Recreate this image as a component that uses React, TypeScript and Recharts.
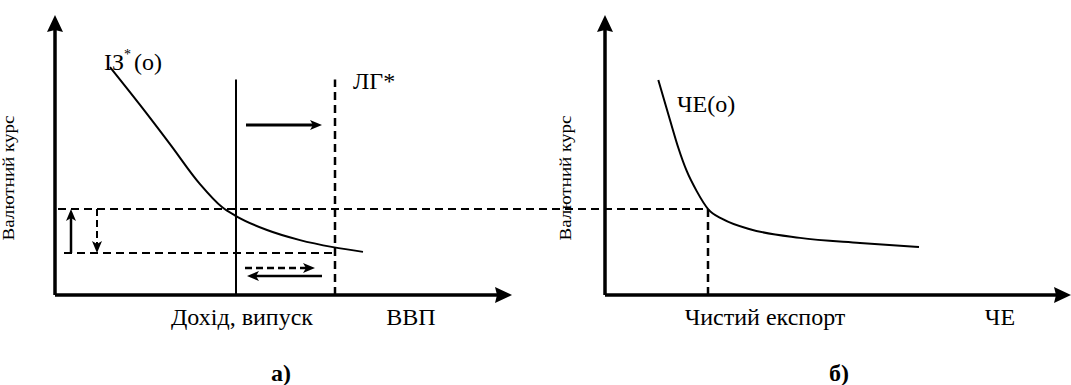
import React from "react";
import { ComposedChart, Line, XAxis, YAxis, ReferenceLine, ReferenceDot } from "recharts";

// shared vertical scale: exchange rate; panel a: output (ВВП), panel b: net export (ЧЕ)
const RATE_MAX = 10;
const OUT_MAX = 101.6;
const NX_SHIFT = 55; // origin of panel b in panel a units
const NX_MIN = -NX_SHIFT;
const NX_MAX = OUT_MAX - NX_SHIFT;

// IЗ*(о) curve
const izOutput = [5.5, 8.5, 11.5, 14.5, 16.7, 18.1, 21.2, 24.5, 27.8, 30.8];
const izRate = [8.14, 6.79, 5.39, 3.96, 3.14, 2.82, 2.32, 1.96, 1.71, 1.54];

// ЧЕ(о) curve
const nxValue = [5.33, 6.5, 7.33, 8.17, 9.17, 10.33, 11.83, 14.5, 19.5, 25.5, 31.4];
const nxRate = [7.68, 6.25, 5.26, 4.43, 3.71, 3.06, 2.7, 2.35, 2.04, 1.86, 1.71];

// key levels
const rateHigh = 3.07;
const rateLow = 1.5;
const outputNow = 18.1; // solid vertical
const outputLG = 28.0; // ЛГ*
const verticalTop = 7.7;
const nxNow = 10.3;
const outAxisEnd = 45.7;

const izData = izOutput.map((x, i) => ({ x, y: izRate[i] }));
const nxData = nxValue.map((x, i) => ({ x, y: nxRate[i] }));

const FONT = '"Liberation Serif", "Times New Roman", serif';

type P = { x1: number; y1: number; x2: number; y2: number };

// line with a notched arrow head at the end point
function arrow(width: number, dash?: string, len = 12, half = 5, notch = 3) {
    return (p: P) => {
        const { x1, y1, x2, y2 } = p;
        const dx = x2 - x1;
        const dy = y2 - y1;
        const d = Math.sqrt(dx * dx + dy * dy) || 1;
        const ux = dx / d;
        const uy = dy / d;
        const bx = x2 - ux * len;
        const by = y2 - uy * len;
        const nx = bx + ux * notch;
        const ny = by + uy * notch;
        const pts = [
            [x2, y2],
            [bx - uy * half, by + ux * half],
            [nx, ny],
            [bx + uy * half, by - ux * half],
        ]
            .map((q) => q.join(","))
            .join(" ");
        return (
            <g>
                <line x1={x1} y1={y1} x2={nx} y2={ny} stroke="#000" strokeWidth={width} strokeDasharray={dash} />
                <polygon points={pts} fill="#000" />
            </g>
        );
    };
}

function plain(width: number, dash?: string) {
    return (p: P) => (
        <line x1={p.x1} y1={p.y1} x2={p.x2} y2={p.y2} stroke="#000" strokeWidth={width} strokeDasharray={dash} />
    );
}

function label(text: React.ReactNode, anchor: "start" | "middle" = "start", size = 24, bold = false) {
    return (p: any) => (
        <text
            x={p.cx}
            y={p.cy}
            fontFamily={FONT}
            fontSize={size}
            fontWeight={bold ? 700 : 400}
            textAnchor={anchor}
            fill="#000"
        >
            {text}
        </text>
    );
}

function axisTitle(text: string) {
    return (p: any) => (
        <text
            x={p.cx}
            y={p.cy}
            transform={`rotate(-90 ${p.cx} ${p.cy})`}
            fontFamily={FONT}
            fontSize={16}
            textAnchor="middle"
            textLength={125}
            lengthAdjust="spacingAndGlyphs"
            fill="#000"
        >
            {text}
        </text>
    );
}

export default function App() {
    const seg = (axis: string, x1: number, y1: number, x2: number, y2: number, shape: any, key: string) => (
        <ReferenceLine
            key={key}
            xAxisId={axis}
            segment={[
                { x: x1, y: y1 },
                { x: x2, y: y2 },
            ]}
            ifOverflow="visible"
            shape={shape}
        />
    );
    const txt = (axis: string, x: number, y: number, shape: any, key: string) => (
        <ReferenceDot key={key} xAxisId={axis} x={x} y={y} ifOverflow="visible" shape={shape} />
    );
    const axisArrow = arrow(3.5, undefined, 17, 8, 2);

    return (
        <div style={{ position: "absolute", left: 0, top: 0, background: "#fff" }}>
            <ComposedChart width={1071} height={385} margin={{ top: 15, right: 0, bottom: 90, left: 55 }}>
                <XAxis xAxisId="a" type="number" dataKey="x" domain={[0, OUT_MAX]} allowDataOverflow hide />
                <XAxis xAxisId="b" type="number" dataKey="x" domain={[NX_MIN, NX_MAX]} allowDataOverflow hide />
                <YAxis type="number" domain={[0, RATE_MAX]} allowDataOverflow hide />

                {/* axes of panel a */}
                {seg("a", 0, 0, 0, RATE_MAX, axisArrow, "ya")}
                {seg("a", 0, 0, outAxisEnd, 0, axisArrow, "xa")}
                {/* axes of panel b */}
                {seg("b", 0, 0, 0, RATE_MAX, axisArrow, "yb")}
                {seg("b", 0, 0, NX_MAX, 0, axisArrow, "xb")}

                {/* guide lines */}
                {seg("a", 0.3, rateHigh, nxNow + NX_SHIFT, rateHigh, plain(2, "8 5"), "hi")}
                {seg("a", 0.9, rateLow, outputLG, rateLow, plain(2, "8 5"), "lo")}
                {seg("b", nxNow, rateHigh, nxNow, 0, plain(2.5, "8 5"), "nxv")}
                {seg("a", outputNow, 0, outputNow, verticalTop, plain(2), "y0")}
                {seg("a", outputLG, 0, outputLG, verticalTop, plain(2.5, "8 5"), "lg")}

                {/* shift arrows */}
                {seg("a", 1.6, rateLow, 1.6, rateHigh, arrow(2.5), "up")}
                {seg("a", 4.2, rateHigh, 4.2, rateLow, arrow(2, "7 4"), "down")}
                {seg("a", 19.1, 6.07, 26.7, 6.07, arrow(3), "r1")}
                {seg("a", 19.0, 0.96, 26.0, 0.96, arrow(2.5, "7 4"), "r2")}
                {seg("a", 26.7, 0.68, 19.2, 0.68, arrow(2.5), "l1")}

                <Line xAxisId="a" data={izData} dataKey="y" type="monotone" dot={false} stroke="#000" strokeWidth={2} isAnimationActive={false} />
                <Line xAxisId="b" data={nxData} dataKey="y" type="monotone" dot={false} stroke="#000" strokeWidth={2} isAnimationActive={false} />

                {/* labels */}
                {txt(
                    "a",
                    4.9,
                    8.04,
                    label(
                        <>
                            <tspan>ІЗ</tspan>
                            <tspan dy={-11} fontSize={14}>
                                *
                            </tspan>
                            <tspan dy={11} dx={3}>
                                (о)
                            </tspan>
                        </>
                    ),
                    "iz"
                )}
                {txt("a", 29.8, 7.36, label("ЛГ*"), "lgt")}
                {txt("a", 18.7, -1.07, label("Дохід, випуск", "middle"), "xla")}
                {txt("a", 35.6, -1.07, label("ВВП", "middle"), "vvp")}
                {txt("a", 22.6, -3.07, label("а)", "middle", 24, true), "fa")}
                {txt("a", -4.1, 4.18, axisTitle("Валютний курс"), "yla")}

                {txt("b", 7.2, 6.54, label("ЧЕ(о)"), "nxt")}
                {txt("b", 16.0, -1.07, label("Чистий експорт", "middle"), "xlb")}
                {txt("b", 39.5, -1.07, label("ЧЕ", "middle"), "che")}
                {txt("b", 23.4, -3.07, label("б)", "middle", 24, true), "fb")}
                {txt("b", -3.4, 4.18, axisTitle("Валютний курс"), "ylb")}
            </ComposedChart>
        </div>
    );
}
